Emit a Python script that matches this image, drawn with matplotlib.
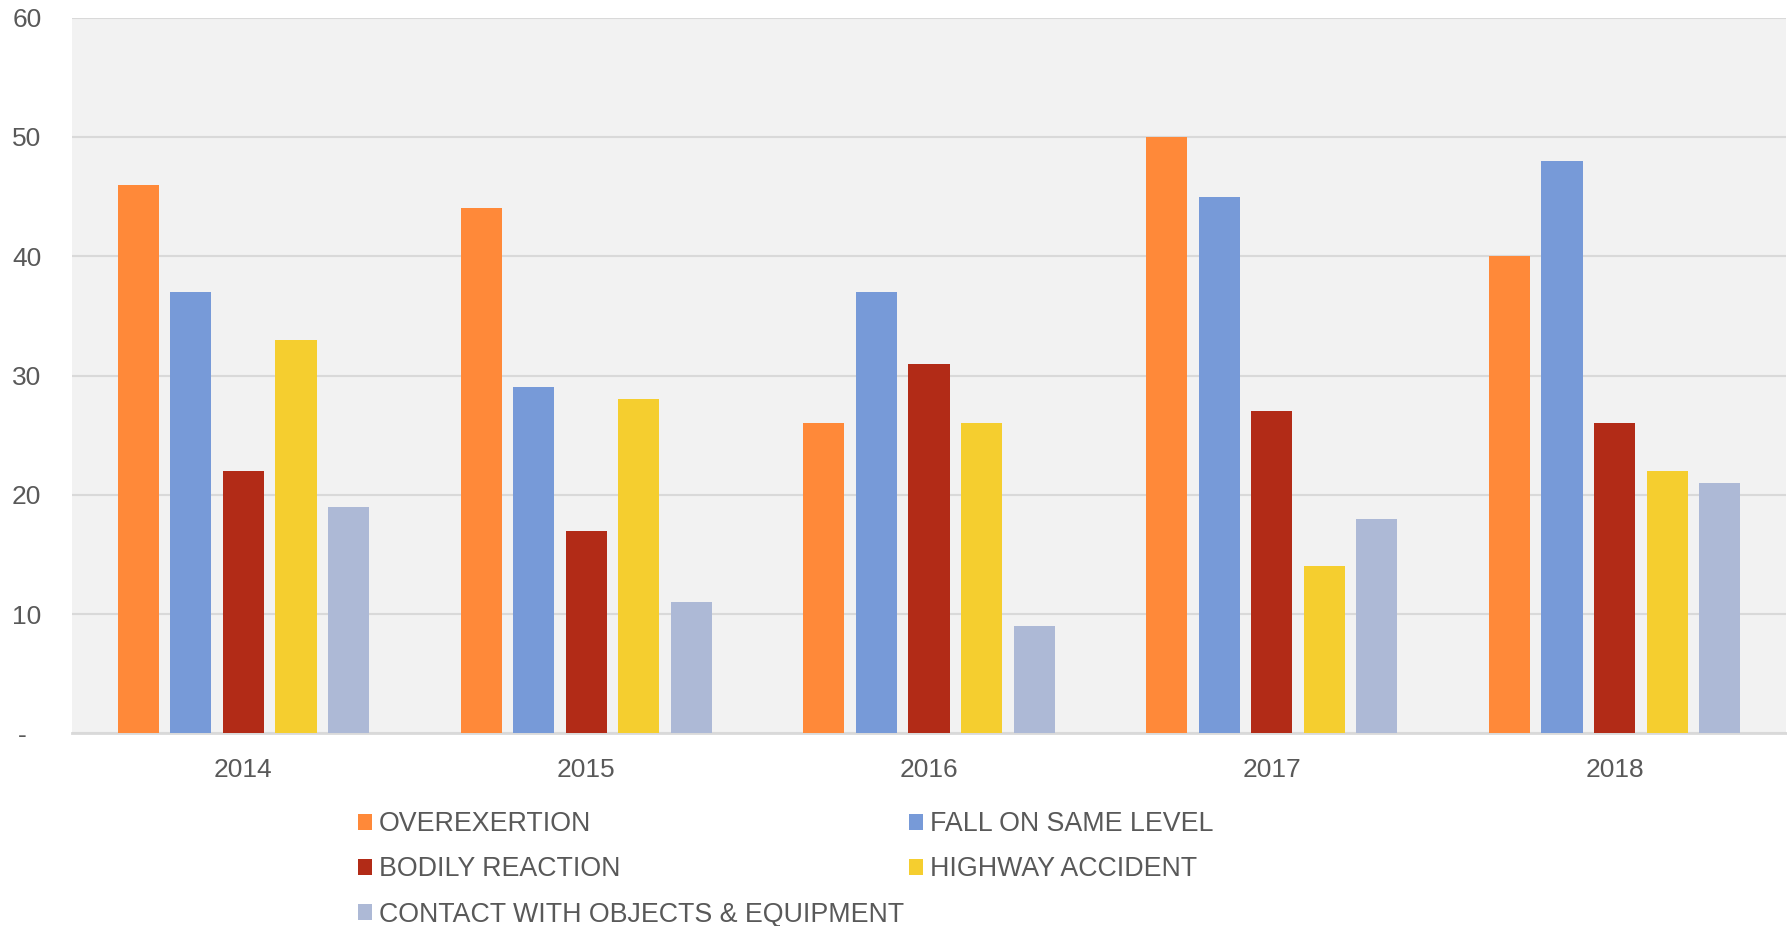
import matplotlib.pyplot as plt
import numpy as np

years = ["2014", "2015", "2016", "2017", "2018"]
series = ["OVEREXERTION", "FALL ON SAME LEVEL", "BODILY REACTION",
          "HIGHWAY ACCIDENT", "CONTACT WITH OBJECTS & EQUIPMENT"]
overexertion = [46, 44, 26, 50, 40]
fall_same_level = [37, 29, 37, 45, 48]
bodily_reaction = [22, 17, 31, 27, 26]
highway_accident = [33, 28, 26, 14, 22]
contact_objects = [19, 11, 9, 18, 21]
colors = ["#FF8939", "#779AD8", "#B22B17", "#F5CE2F", "#ADB9D6"]

values = [overexertion, fall_same_level, bodily_reaction, highway_accident, contact_objects]

plt.rcParams['font.family'] = ['Liberation Sans', 'DejaVu Sans']
text_col = "#595959"

fig = plt.figure(figsize=(17.87, 9.26), dpi=100)
ax = fig.add_axes([0.0403, 0.2079, 0.9591, 0.7731])
ax.set_facecolor("#F2F2F2")

x = np.arange(len(years))
step = 0.1533
width = 0.12
bars = []
for i, (vals, col) in enumerate(zip(values, colors)):
    b = ax.bar(x + (i - 2) * step, vals, width, color=col, zorder=3, label=series[i])
    bars.append(b)

ax.set_xlim(-0.5, len(years) - 0.5)
ax.set_ylim(0, 60)
ax.set_yticks(range(0, 61, 10))
ax.set_yticklabels(["-  "] + [str(v) for v in range(10, 61, 10)])
ax.set_xticks(x)
ax.set_xticklabels(years)
ax.grid(axis='y', color="#D9D9D9", linewidth=1.5, zorder=0)
ax.tick_params(axis='both', length=0, labelsize=19, colors=text_col)
ax.tick_params(axis='y', pad=22)
ax.tick_params(axis='x', pad=18)
for s in ["top", "right", "left"]:
    ax.spines[s].set_visible(False)
ax.spines["bottom"].set_color("#D9D9D9")
ax.spines["bottom"].set_linewidth(2)

# legend laid out row by row like the original
order = [0, 2, 4, 1, 3]
leg = fig.legend([bars[k] for k in order], [series[k] for k in order],
                 ncol=2, loc='upper left', bbox_to_anchor=(0.2003, 0.124),
                 frameon=False, fontsize=19.3, handlelength=0.53, handleheight=0.55,
                 handletextpad=0.25, columnspacing=0.19, labelspacing=0.72,
                 borderpad=0, borderaxespad=0)
for t in leg.get_texts():
    t.set_color(text_col)

plt.savefig("out.png", dpi=100)
